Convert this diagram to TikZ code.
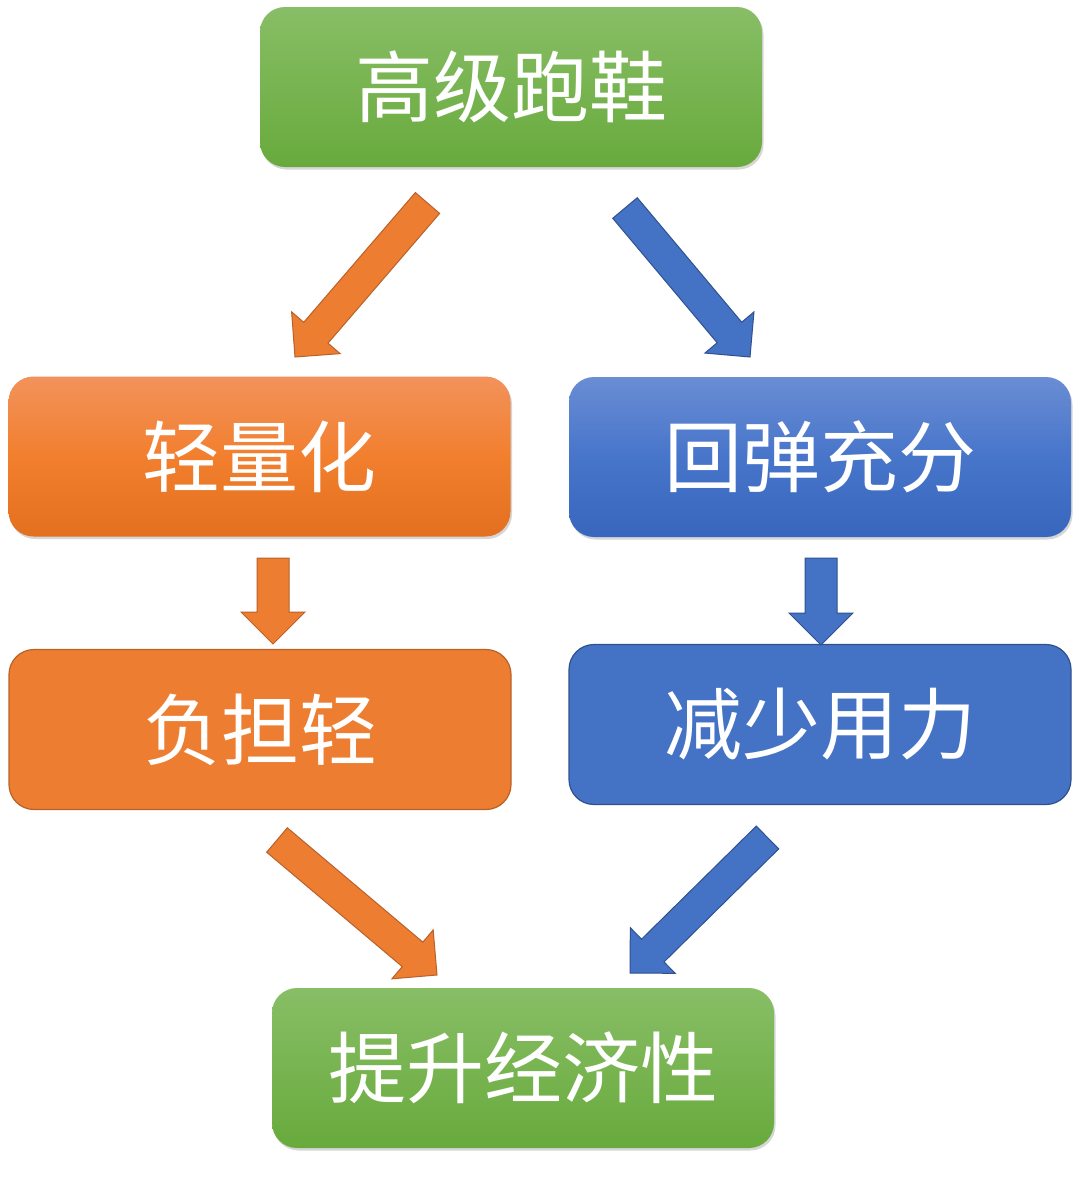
\documentclass[tikz,border=0pt]{standalone}
\usepackage{fontspec}
\newfontfamily\cjk{Noto Sans CJK SC}
\usetikzlibrary{calc,shadows}
\definecolor{gtop}{HTML}{88BE66}
\definecolor{gbot}{HTML}{68AA3C}
\definecolor{otop}{HTML}{F2925B}
\definecolor{omid}{HTML}{F27F2E}
\definecolor{obot}{HTML}{E2701E}
\definecolor{btop}{HTML}{6A8DD4}
\definecolor{bmid}{HTML}{4775CA}
\definecolor{bbot}{HTML}{3866BD}
\definecolor{oflat}{HTML}{ED7D31}
\definecolor{oedge}{HTML}{B8622A}
\definecolor{bflat}{HTML}{4472C4}
\definecolor{bedge}{HTML}{2F528F}
\tikzset{
  box/.style={rounded corners=25pt, minimum width=502pt, minimum height=160pt,
    inner sep=0pt, text=white, font=\cjk\fontsize{78}{90}\selectfont},
  shad/.style={drop shadow={shadow xshift=1.5pt, shadow yshift=-2.5pt, opacity=0.16, fill=black}},
  greenbox/.style={box, shad, top color=gtop, bottom color=gbot},
  orangebox/.style={box, shad, top color=otop, bottom color=obot, middle color=omid},
  bluebox/.style={box, shad, top color=btop, bottom color=bbot, middle color=bmid},
  orangeflat/.style={box, fill=oflat, draw=oedge, line width=1.2pt},
  blueflat/.style={box, fill=bflat, draw=bedge, line width=1.2pt},
  oarrow/.style={fill=oflat, draw=oedge, line width=1pt, line join=miter},
  barrow/.style={fill=bflat, draw=bedge, line width=1pt, line join=miter}
}
\newcommand{\blockarr}[3]{%
  \coordinate (ba-b) at ($(#2)!32pt!(#1)$);
  \draw[#3] ($(#1)!16pt!90:(#2)$) -- ($(ba-b)!16pt!90:(#2)$) -- ($(ba-b)!32pt!90:(#2)$)
    -- (#2) -- ($(ba-b)!32pt!-90:(#2)$) -- ($(ba-b)!16pt!-90:(#2)$)
    -- ($(#1)!16pt!-90:(#2)$) -- cycle;}
\begin{document}
\begin{tikzpicture}[x=1pt,y=-1pt]
\useasboundingbox[fill=white] (0,0) rectangle (1080,1178);
% boxes
\node[greenbox]   (top) at (511,87)    {\raisebox{-3pt}{高级跑鞋}};
\node[orangebox]  (light) at (259.5,456.5) {\raisebox{-3pt}{轻量化}};
\node[bluebox]    (rebound) at (820,457) {\raisebox{-3pt}{回弹充分}};
\node[orangeflat] (burden) at (260,729.5) {\raisebox{-2pt}{负担轻}};
\node[blueflat]   (force) at (820,724.5) {\raisebox{-2pt}{减少用力}};
\node[greenbox]   (econ) at (523,1068) {\raisebox{-2pt}{提升经济性}};
% arrow end points
\coordinate (a1t) at (427.5,203); \coordinate (a1h) at (295,357);
\coordinate (a2t) at (625,208);   \coordinate (a2h) at (750,357);
\coordinate (a3t) at (273,558);   \coordinate (a3h) at (273,644);
\coordinate (a4t) at (821,558);   \coordinate (a4h) at (821,645);
\coordinate (a5t) at (277,840);   \coordinate (a5h) at (437,975);
\coordinate (a6t) at (767.5,837.5); \coordinate (a6h) at (630,973);
\blockarr{a1t}{a1h}{oarrow}
\blockarr{a2t}{a2h}{barrow}
\blockarr{a3t}{a3h}{oarrow}
\blockarr{a4t}{a4h}{barrow}
\blockarr{a5t}{a5h}{oarrow}
\blockarr{a6t}{a6h}{barrow}
\end{tikzpicture}
\end{document}
